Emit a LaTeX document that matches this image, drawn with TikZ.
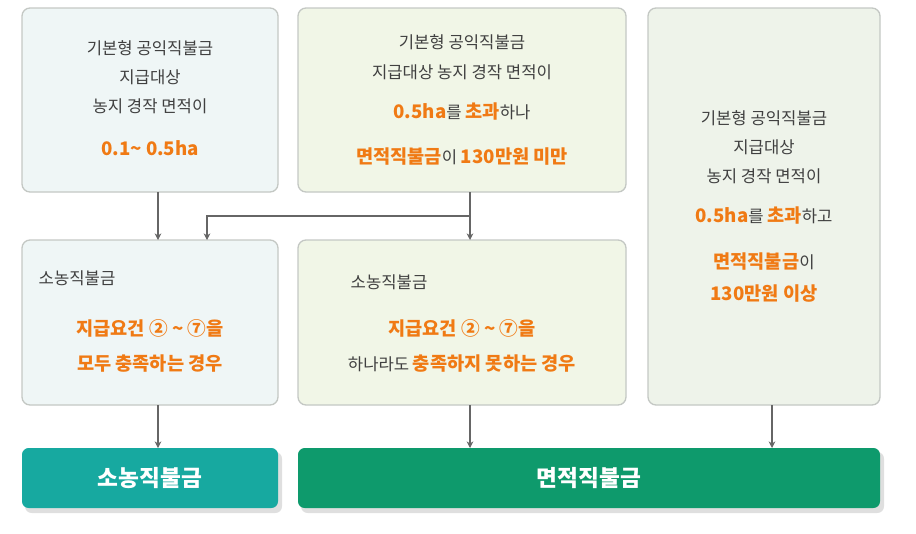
\documentclass[tikz,border=0pt]{standalone}
\usepackage{fontspec}
\setmainfont{Noto Sans CJK KR}
\usetikzlibrary{arrows.meta}
\definecolor{og}{HTML}{F07A14}
\definecolor{tx}{HTML}{404040}
\definecolor{bl}{HTML}{EFF6F6}
\definecolor{gr}{HTML}{F1F6E7}
\definecolor{gc}{HTML}{EEF3EA}
\definecolor{bd}{HTML}{C4C8C4}
\definecolor{teal}{HTML}{17A9A0}
\definecolor{grn}{HTML}{0E9A6C}
\newcommand{\og}[1]{{\bfseries\color{og}\fontsize{14}{16}\selectfont #1}}
\begin{document}
\begin{tikzpicture}[x=0.75pt,y=-0.75pt,
  box/.style={draw=bd,line width=1pt,rounded corners=6pt},
  txt/.style={text=tx,font=\fontsize{12.5}{22}\selectfont,align=center},
  arr/.style={draw=gray!80!black,line width=0.8pt,-{Stealth[length=5pt,width=5pt]}},
  btn/.style={rounded corners=5pt,text=white,font=\bfseries\fontsize{17}{20}\selectfont}]
\useasboundingbox (0,0) rectangle (916,533);
\fill[gray!25,rounded corners=5pt] (25,452) rectangle (282,513);
\fill[gray!25,rounded corners=5pt] (301,452) rectangle (884,513);
\filldraw[box,fill=bl] (22,8) rectangle (278,192);
\filldraw[box,fill=gr] (298,8) rectangle (626,192);
\filldraw[box,fill=gc] (648,8) rectangle (880,405);
\filldraw[box,fill=bl] (22,240) rectangle (278,405);
\filldraw[box,fill=gr] (298,240) rectangle (626,405);
\node[btn,fill=teal,minimum width=256*0.75pt,minimum height=60*0.75pt] (sbtn) at (150,478) {소농직불금};
\node[btn,fill=grn,minimum width=582*0.75pt,minimum height=60*0.75pt] (mbtn) at (589,478) {면적직불금};
\node[txt] (ta) at (150,98) {기본형 공익직불금\\지급대상\\농지 경작 면적이\\[10pt]\og{0.1\textasciitilde{} 0.5ha}};
\node[txt] (tb) at (462,100) {기본형 공익직불금\\지급대상 농지 경작 면적이\\[8pt]\og{0.5ha}를 \og{초과}하나\\[12pt]\og{면적직불금}이 \og{130만원 미만}};
\node[txt] (tc) at (764,206) {기본형 공익직불금\\지급대상\\농지 경작 면적이\\[8pt]\og{0.5ha}를 \og{초과}하고\\[12pt]\og{면적직불금}이\\[2pt]\og{130만원 이상}};
\node[txt,anchor=west] (td1) at (34,278) {소농직불금};
\node[txt] (td) at (150,346) {\og{지급요건 ② \textasciitilde{} ⑦을}\\[4pt]\og{모두 충족하는 경우}};
\node[txt,anchor=west] (te1) at (346,282) {소농직불금};
\node[txt] (te) at (462,346) {\og{지급요건 ② \textasciitilde{} ⑦을}\\[4pt]하나라도 \og{충족하지 못하는 경우}};
\coordinate (a1) at (158,192); \coordinate (a2) at (158,240);
\coordinate (b1) at (470,192); \coordinate (b2) at (470,240);
\coordinate (j) at (470,216); \coordinate (j2) at (207,216); \coordinate (j3) at (207,240);
\draw[arr] (a1) -- (a2);
\draw[arr] (b1) -- (b2);
\draw[arr] (j) -- (j2) -- (j3);
\draw[arr] (158,405) -- (158,448);
\draw[arr] (470,405) -- (470,448);
\draw[arr] (772,405) -- (772,448);
\end{tikzpicture}
\end{document}
